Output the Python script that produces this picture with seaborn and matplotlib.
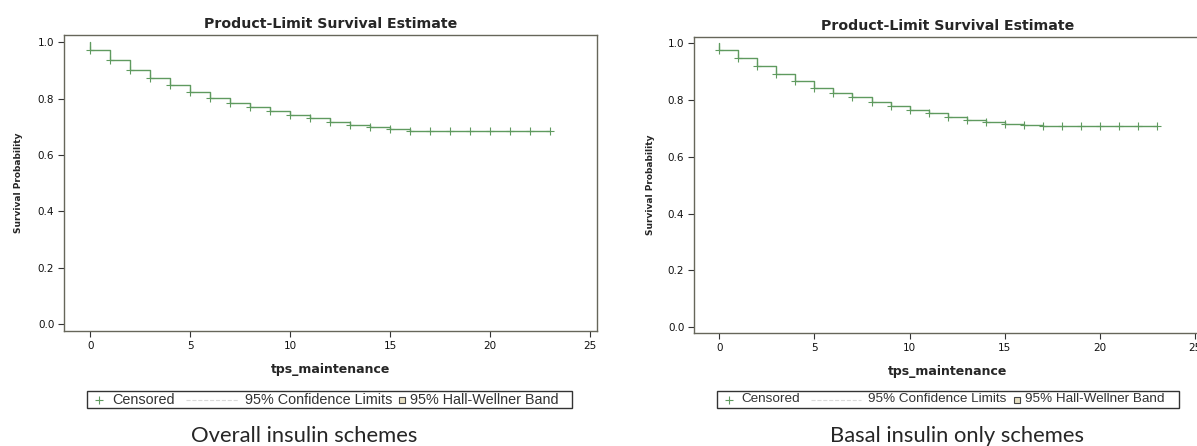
import matplotlib
matplotlib.use('Agg')
import matplotlib.pyplot as plt
from matplotlib.lines import Line2D
from matplotlib.patches import Rectangle
import pandas as pd
import seaborn as sns

# survival probability read at each month 0..23 (censor marks at every month)
months = list(range(24))
overall_surv = [0.973, 0.938, 0.902, 0.873, 0.847, 0.824, 0.802, 0.785, 0.771, 0.756,
                0.742, 0.731, 0.719, 0.707, 0.699, 0.693, 0.687, 0.687, 0.687, 0.687,
                0.687, 0.687, 0.687, 0.687]
basal_surv = [0.976, 0.948, 0.920, 0.893, 0.868, 0.844, 0.826, 0.809, 0.794, 0.779,
              0.766, 0.753, 0.741, 0.731, 0.721, 0.715, 0.711, 0.707, 0.707, 0.707,
              0.707, 0.707, 0.707, 0.707]
captions = ['Overall insulin schemes', 'Basal insulin only schemes']
xticks = [0, 5, 10, 15, 20, 25]
yticks = [0.0, 0.2, 0.4, 0.6, 0.8, 1.0]

sns.set_theme(style='white')
plt.rcParams['font.family'] = ['DejaVu Sans']

W, H = 1197, 446
green = '#5f9a5f'
frame = '#66665a'


def fx(x):
    return x / W


def fy(y):
    return 1 - y / H


def km_panel(ax, surv, ylim):
    steps = pd.DataFrame({'t': [0] + months, 's': [1.0] + surv})
    sns.lineplot(data=steps, x='t', y='s', drawstyle='steps-post', estimator=None,
                 sort=False, color=green, linewidth=1.0, ax=ax)
    marks = pd.DataFrame({'t': months, 's': surv})
    sns.scatterplot(data=marks, x='t', y='s', marker='+', color=green, s=30,
                    linewidth=0.8, ax=ax, zorder=3)
    ax.set_xlim(-1.32, 25.35)
    ax.set_ylim(*ylim)
    ax.set_xticks(xticks)
    ax.set_yticks(yticks)
    ax.set_yticklabels([f'{v:.1f}' for v in yticks])
    ax.tick_params(direction='out', length=4, width=0.8, color='#333333',
                   labelsize=7.5, labelcolor='#111111', pad=3, bottom=True, left=True)
    for sp in ax.spines.values():
        sp.set_color(frame)
        sp.set_linewidth(1.0)
    ax.set_title('Product-Limit Survival Estimate', fontsize=10.2, fontweight='bold', pad=5)
    ax.set_xlabel('tps_maintenance', fontsize=9, fontweight='bold', labelpad=9)
    ax.set_ylabel('Survival Probability', fontsize=6.5, fontweight='bold')
    ax.yaxis.set_label_coords(-0.077, 0.5)


def draw_legend(fig, x0, x1, y0, y1, fs):
    w = x1 - x0
    yc = (y0 + y1) / 2
    fig.add_artist(Rectangle((fx(x0), fy(y1)), fx(x1) - fx(x0), fy(y0) - fy(y1),
                             transform=fig.transFigure, fill=False,
                             edgecolor='#333333', linewidth=1.0))
    fig.add_artist(Line2D([fx(x0 + 0.025 * w)], [fy(yc)], marker='+', color=green,
                          markersize=6, markeredgewidth=0.8, transform=fig.transFigure))
    fig.add_artist(Line2D([fx(x0 + 0.204 * w), fx(x0 + 0.311 * w)], [fy(yc), fy(yc)],
                          color='#d9d9d9', linestyle='--', linewidth=0.8,
                          transform=fig.transFigure))
    fig.add_artist(Line2D([fx(x0 + 0.650 * w)], [fy(yc)], marker='s', markersize=4.5,
                          markerfacecolor='#e6dfc2', markeredgecolor='#444444',
                          markeredgewidth=0.8, transform=fig.transFigure))
    for frac, txt in [(0.052, 'Censored'), (0.326, '95% Confidence Limits'),
                      (0.666, '95% Hall-Wellner Band')]:
        fig.text(fx(x0 + frac * w), fy(yc), txt, fontsize=fs, color='#333333',
                 family='Liberation Sans', ha='left', va='center')


fig = plt.figure(figsize=(W / 100, H / 100), dpi=100)
ax1 = fig.add_axes([0.0535, 0.2578, 0.4452, 0.6637])
ax2 = fig.add_axes([0.5798, 0.2534, 0.4244, 0.6637])

km_panel(ax1, overall_surv, (-0.024, 1.026))
km_panel(ax2, basal_surv, (-0.020, 1.022))

draw_legend(fig, 87, 572, 391, 408, 10.4)
draw_legend(fig, 717, 1179, 391, 408, 9.7)

fig.text(fx(304), fy(436), captions[0], fontsize=15.8, family='Lato', ha='center', va='center')
fig.text(fx(957), fy(436), captions[1], fontsize=15.8, family='Lato', ha='center', va='center')

fig.savefig('out.png', dpi=100)
